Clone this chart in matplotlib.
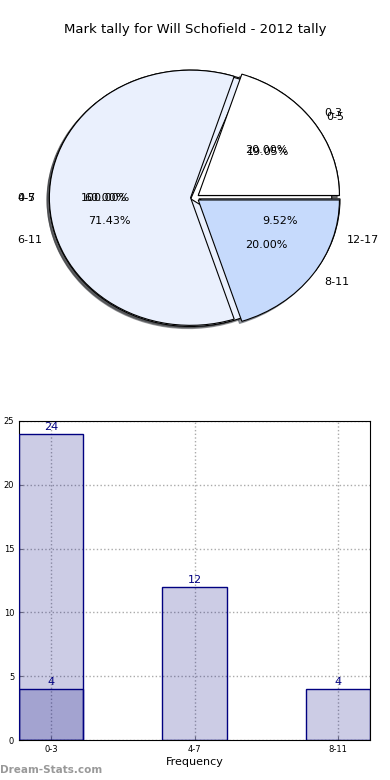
import matplotlib
matplotlib.use("Agg")
import matplotlib.pyplot as plt

# pie data: three tallies drawn on top of each other
pie_all_labels = ["0-5"]
pie_all_values = [21]
pie_b_labels = ["0-5", "6-11", "12-17"]
pie_b_values = [4, 15, 2]
pie_a_labels = ["0-3", "4-7", "8-11"]
pie_a_values = [4, 12, 4]

# bar data
bar_labels = ["0-3", "4-7", "8-11"]
bar_main = [24, 12, 4]
bar_extra = [4]

wedge_colors = ["white", "#eaf0fd", "#c6dafc"]

fig = plt.figure(figsize=(3.9, 7.8), dpi=100)

# ---- pie ----
ax1 = fig.add_axes([0.047, 0.542, 0.905, 0.409])
for vals, labs in [
    (pie_all_values, pie_all_labels),
    (pie_b_values, pie_b_labels),
    (pie_a_values, pie_a_labels),
]:
    ax1.pie(
        vals,
        labels=labs,
        autopct="%1.2f%%",
        explode=[0.03] * len(vals),
        colors=wedge_colors[: len(vals)],
        shadow={"ox": -0.012, "oy": -0.012},
        wedgeprops={"edgecolor": "black", "linewidth": 0.8},
        textprops={"fontsize": 8},
    )
ax1.set_aspect("auto")
ax1.set_xlim(-1.25, 1.25)
ax1.set_ylim(-1.25, 1.25)
fig.text(0.5, 1 - 30 / 780, "Mark tally for Will Schofield - 2012 tally",
         ha="center", va="center", fontsize=9.5)

# ---- bars ----
ax2 = fig.add_axes([19 / 390, 40 / 780, 351 / 390, 319 / 780])
x = list(range(len(bar_labels)))
ax2.bar(x, bar_main, width=0.45, color="navy", alpha=0.2, zorder=2)
ax2.bar(x, bar_main, width=0.45, fill=False, edgecolor="navy", linewidth=1, zorder=3)
xe = x[: len(bar_extra)]
ax2.bar(xe, bar_extra, width=0.45, color="navy", alpha=0.2, zorder=2)
ax2.bar(xe, bar_extra, width=0.45, fill=False, edgecolor="navy", linewidth=1, zorder=3)
for xi, v in zip(x, bar_main):
    ax2.text(xi, v + 0.15, str(v), ha="center", va="bottom", color="navy", fontsize=8, zorder=4)
for xi, v in zip(xe, bar_extra):
    ax2.text(xi, v + 0.15, str(v), ha="center", va="bottom", color="navy", fontsize=8, zorder=4)

ax2.set_xlim(-0.225, 2.225)
ax2.set_ylim(0, 25)
ax2.set_xticks(x)
ax2.set_xticklabels(bar_labels)
ax2.set_yticks([0, 5, 10, 15, 20, 25])
ax2.tick_params(labelsize=6, direction="in", length=3, color="gray")
ax2.grid(True, linestyle=":", color="#aaaaaa", linewidth=1, zorder=0)
ax2.set_axisbelow(True)
ax2.set_xlabel("Frequency", fontsize=8, labelpad=2)
ax2.set_ylabel("Occurrences", fontsize=8)
ax2.yaxis.set_label_coords(-0.05, 0.5)

fig.text(0.0, 1 - 770 / 780, "Dream-Stats.com", ha="left", va="center",
         fontsize=7.5, color="#999999", fontweight="bold")

fig.savefig("out.png", dpi=100)
